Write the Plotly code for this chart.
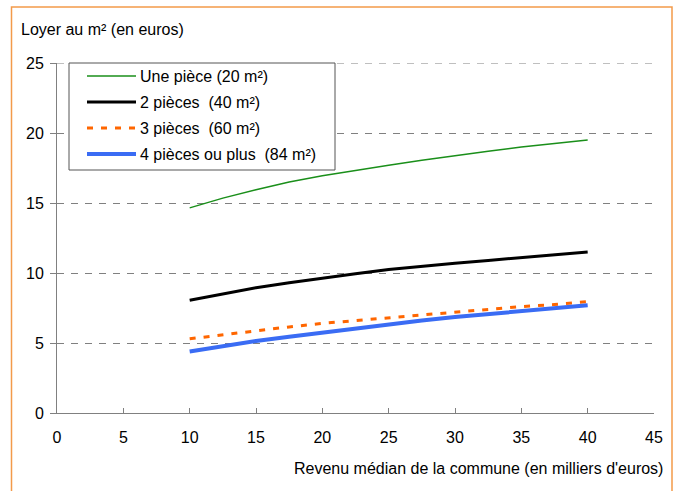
import plotly.graph_objects as go

# Revenu médian de la commune (milliers d'euros)
revenu = [10, 12.5, 15, 17.5, 20, 22.5, 25, 27.5, 30, 32.5, 35, 37.5, 40]

# Loyer au m² (euros) par taille de logement
une_piece = [14.65, 15.35, 15.95, 16.5, 16.95, 17.35, 17.7, 18.05, 18.4, 18.7, 19.0, 19.25, 19.5]
deux_pieces = [8.05, 8.5, 8.95, 9.3, 9.65, 9.95, 10.25, 10.5, 10.7, 10.9, 11.1, 11.3, 11.5]
trois_pieces = [5.3, 5.6, 5.9, 6.15, 6.4, 6.6, 6.85, 7.05, 7.25, 7.45, 7.6, 7.75, 7.95]
quatre_pieces = [4.4, 4.8, 5.15, 5.45, 5.75, 6.05, 6.35, 6.6, 6.85, 7.05, 7.25, 7.5, 7.7]

labels = [
    "Une pièce (20 m²)",
    "2 pièces\u00a0\u00a0(40 m²)",
    "3 pièces\u00a0\u00a0(60 m²)",
    "4 pièces ou plus\u00a0\u00a0(84 m²)",
]
x_ticks = list(range(0, 50, 5))
y_ticks = list(range(0, 30, 5))

series = [une_piece, deux_pieces, trois_pieces, quatre_pieces]
styles = [
    dict(color="#1a8f1a", width=1.5, dash="solid"),
    dict(color="#000000", width=3, dash="solid"),
    dict(color="#ff6600", width=3, dash="6px,8px"),
    dict(color="#3a6cf4", width=4, dash="solid"),
]

W, H = 678, 491
ML, MR, MT, MB = 57, 24, 63, 78
PW, PH = W - ML - MR, H - MT - MB
FONT = "Liberation Sans, Arial, sans-serif"
FS = 16
GRID = dict(color="#808080", width=1, dash="7px,7px")


def px_x(px):
    return (px - ML) / PW


def px_y(py):
    return 1 - (py - MT) / PH


fig = go.Figure()
for vals, st, name in zip(series, styles, labels):
    fig.add_trace(go.Scatter(x=revenu, y=vals, mode="lines", name=name,
                             line=st, showlegend=False, hoverinfo="skip"))

shapes = []
annotations = []

# Gridline on the top tick (at the edge of the range)
shapes.append(dict(type="line", xref="paper", yref="y", x0=0, x1=1,
                   y0=y_ticks[-1], y1=y_ticks[-1], line=GRID, layer="below"))

# Legend box
shapes.append(dict(type="rect", xref="paper", yref="paper",
                   x0=px_x(69), x1=px_x(335), y0=px_y(170), y1=px_y(63),
                   line=dict(color="#555555", width=1), fillcolor="white", layer="above"))
for i, (st, name) in enumerate(zip(styles, labels)):
    yy = px_y(76 + 26 * i)
    shapes.append(dict(type="line", xref="paper", yref="paper",
                       x0=px_x(87), x1=px_x(136), y0=yy, y1=yy,
                       line=st, layer="above"))
    annotations.append(dict(xref="paper", yref="paper", x=px_x(138), y=yy,
                            text=name, showarrow=False, xanchor="left", yanchor="middle",
                            font=dict(size=FS, color="#000000", family=FONT)))

# Outer frame
shapes.append(dict(type="rect", xref="paper", yref="paper",
                   x0=px_x(11.5), x1=px_x(672), y0=px_y(500), y1=px_y(7),
                   line=dict(color="#f39a4a", width=1.5), fillcolor="rgba(0,0,0,0)",
                   layer="below"))

# Axis titles
annotations.append(dict(xref="paper", yref="paper", x=px_x(19), y=px_y(30),
                        text="Loyer au m² (en euros)", showarrow=False,
                        xanchor="left", yanchor="middle",
                        font=dict(size=FS, color="#000000", family=FONT)))
annotations.append(dict(xref="paper", yref="paper", x=px_x(665), y=px_y(468),
                        text="Revenu médian de la commune (en milliers d'euros)",
                        showarrow=False, xanchor="right", yanchor="middle",
                        font=dict(size=FS, color="#000000", family=FONT)))

fig.update_layout(
    width=W, height=H,
    margin=dict(l=ML, r=MR, t=MT, b=MB, pad=0),
    paper_bgcolor="white", plot_bgcolor="white",
    font=dict(family=FONT, size=FS, color="#000000"),
    shapes=shapes, annotations=annotations,
    showlegend=False,
)
fig.update_xaxes(range=[0, 45], tickvals=x_ticks, ticktext=[str(v) for v in x_ticks],
                 showgrid=False, zeroline=False, showline=True, linecolor="#808080",
                 linewidth=1, ticks="inside", ticklen=5, tickcolor="#808080",
                 ticklabelstandoff=10, fixedrange=True)
fig.update_yaxes(range=[0, 25], tickvals=y_ticks, ticktext=[str(v) for v in y_ticks],
                 showgrid=True, gridcolor="#808080", gridwidth=1, griddash="7px,7px",
                 zeroline=False, showline=True, linecolor="#808080", linewidth=1,
                 ticks="outside", ticklen=6, tickcolor="#808080",
                 ticklabelstandoff=3, fixedrange=True)

fig.write_html("out.html", config={"displayModeBar": False})
